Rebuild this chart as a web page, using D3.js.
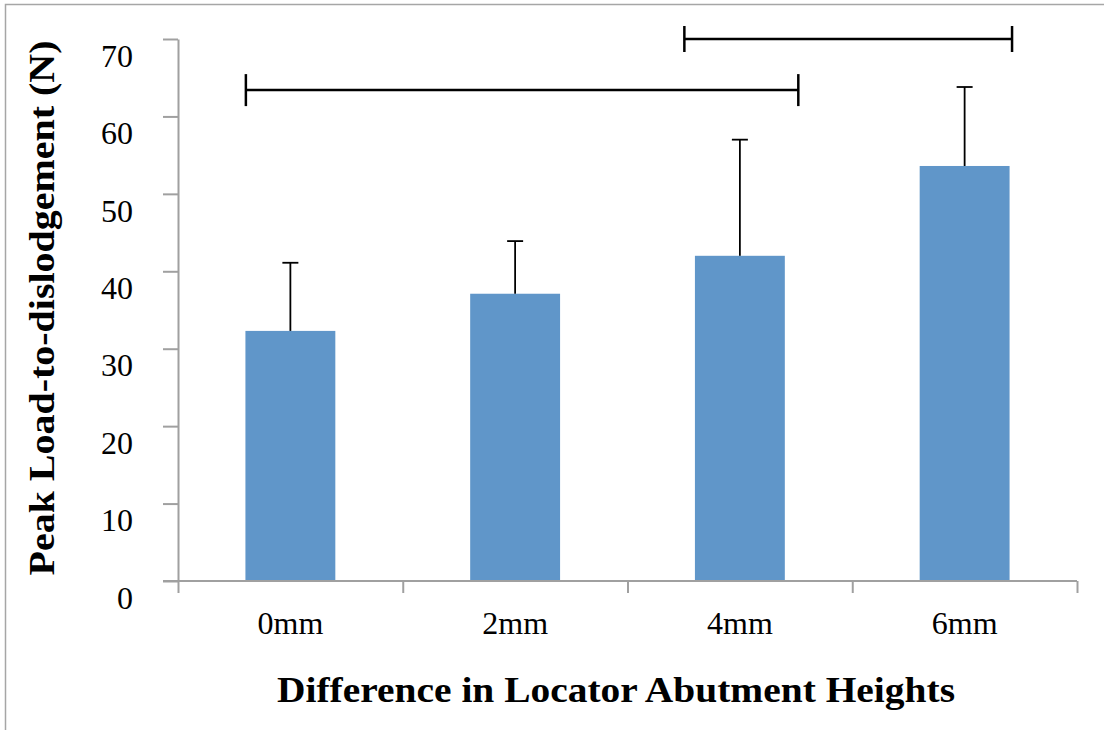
<!DOCTYPE html>
<html><head><meta charset="utf-8">
<script src="https://cdn.jsdelivr.net/npm/d3@7"></script>
<style>body{margin:0;background:#fff}svg{display:block}</style>
</head><body>
<script>
const categories = ["0mm", "2mm", "4mm", "6mm"];
const means = [32.3, 37.1, 42.0, 53.6];
const upperErr = [41.1, 43.9, 57.0, 63.8];
const yTicks = [0, 10, 20, 30, 40, 50, 60, 70];
// significance brackets: [start, end] in category units (0..4), height in N
const bracketStart = [0.302, 2.253];
const bracketEnd = [2.76, 3.711];
const bracketLevel = [63.4, 70];

const W = 1104, H = 730;
const svg = d3.select("body").append("svg").attr("width", W).attr("height", H);
svg.append("rect").attr("width", W).attr("height", H).attr("fill", "#fff");
// frame
svg.append("path").attr("d", `M5.5,${H} L5.5,4.5 L${W},4.5`).attr("fill", "none").attr("stroke", "#a6a6a6").attr("stroke-width", 1.5);

const x0 = 178, x1 = 1077, yb = 581, yt = 39;
const x = d3.scaleBand().domain(categories).range([x0, x1]).paddingInner(0.6).paddingOuter(0.3);
const xc = d3.scaleLinear().domain([0, 4]).range([x0, x1]);
const y = d3.scaleLinear().domain([0, 70]).range([yb, yt]);

const font = "'Liberation Serif', 'DejaVu Serif', serif";
const axisColor = "#a0a0a0";

// bars
svg.selectAll("rect.bar").data(categories).enter().append("rect")
  .attr("x", d => x(d)).attr("width", x.bandwidth())
  .attr("y", (d, i) => y(means[i])).attr("height", (d, i) => yb - y(means[i]))
  .attr("fill", "#6096c9");

// error bars
const eb = svg.append("g").attr("stroke", "#000").attr("stroke-width", 1.8);
categories.forEach((c, i) => {
  const cx = x(c) + x.bandwidth() / 2;
  eb.append("line").attr("x1", cx).attr("x2", cx).attr("y1", y(means[i])).attr("y2", y(upperErr[i]));
  eb.append("line").attr("x1", cx - 8).attr("x2", cx + 8).attr("y1", y(upperErr[i])).attr("y2", y(upperErr[i]));
});

// y axis
const ya = svg.append("g").attr("transform", `translate(${x0},0)`)
  .call(d3.axisLeft(y).tickValues(yTicks).tickSize(15).tickSizeOuter(0).tickFormat(d3.format("d")));
ya.select(".domain").attr("stroke", axisColor).attr("stroke-width", 2);
ya.selectAll(".tick line").attr("stroke", axisColor).attr("stroke-width", 2);
ya.selectAll(".tick text").attr("font-family", font).attr("font-size", 32).attr("fill", "#000")
  .attr("x", -45).attr("dy", "0.85em").attr("text-anchor", "end");

// x axis
const xa = svg.append("g").attr("transform", `translate(0,${yb})`)
  .call(d3.axisBottom(xc).tickValues([0, 1, 2, 3, 4]).tickSize(12).tickSizeOuter(0).tickFormat(""));
xa.select(".domain").attr("stroke", axisColor).attr("stroke-width", 2).attr("d", `M${x0 - 15},0H${x1}`);
xa.selectAll(".tick line").attr("stroke", axisColor).attr("stroke-width", 2);
xa.selectAll("text.cat").data(categories).enter().append("text").attr("class", "cat")
  .attr("x", d => x(d) + x.bandwidth() / 2).attr("y", 53)
  .attr("text-anchor", "middle").attr("font-family", font).attr("font-size", 32).attr("fill", "#000")
  .text(d => d);

// brackets
const br = svg.append("g").attr("stroke", "#000").attr("stroke-width", 2.5).attr("fill", "none");
bracketStart.forEach((s, i) => {
  const yy = y(bracketLevel[i]);
  const h = i === 0 ? 16 : 13;
  br.append("line").attr("x1", xc(s)).attr("x2", xc(bracketEnd[i])).attr("y1", yy).attr("y2", yy);
  br.append("line").attr("x1", xc(s)).attr("x2", xc(s)).attr("y1", yy - h).attr("y2", yy + h);
  br.append("line").attr("x1", xc(bracketEnd[i])).attr("x2", xc(bracketEnd[i])).attr("y1", yy - h).attr("y2", yy + h);
});

// axis titles
svg.append("text").attr("x", 616).attr("y", 702).attr("text-anchor", "middle")
  .attr("font-family", font).attr("font-weight", "bold").attr("font-size", 36)
  .attr("textLength", 678).attr("lengthAdjust", "spacingAndGlyphs")
  .text("Difference in Locator Abutment Heights");
svg.append("text").attr("transform", "translate(54,308) rotate(-90)").attr("text-anchor", "middle")
  .attr("font-family", font).attr("font-weight", "bold").attr("font-size", 36)
  .attr("textLength", 535).attr("lengthAdjust", "spacingAndGlyphs")
  .text("Peak Load-to-dislodgement (N)");
</script>
</body></html>
